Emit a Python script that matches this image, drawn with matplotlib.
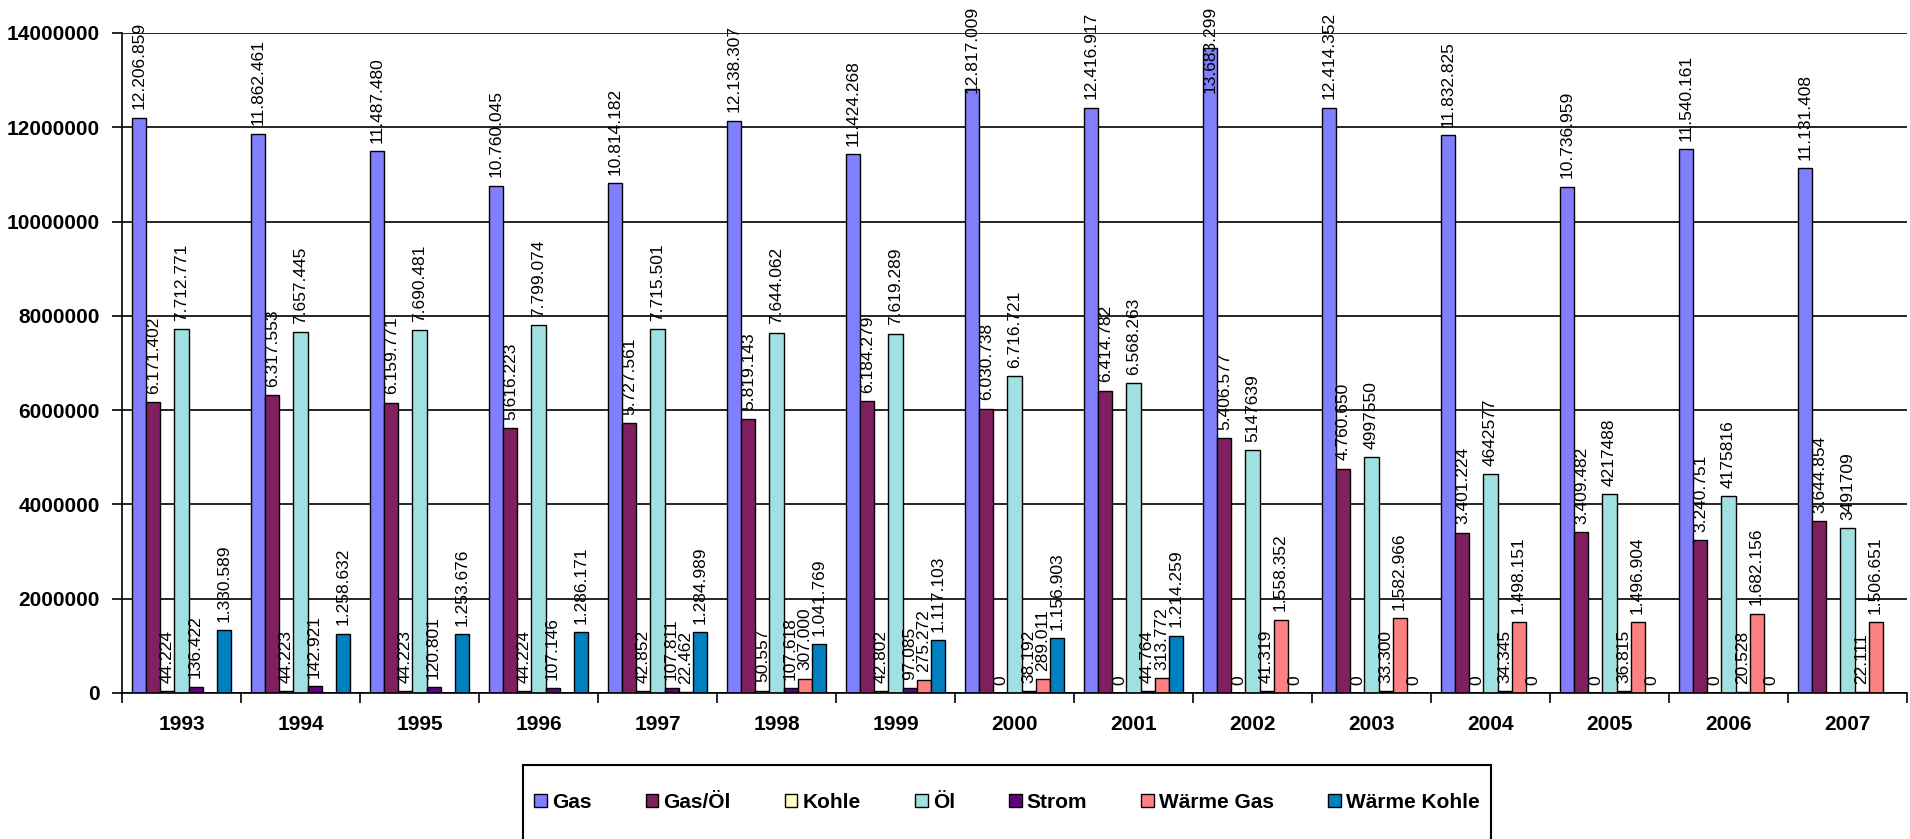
import numpy as np
import matplotlib
matplotlib.use("Agg")
import matplotlib.pyplot as plt
from matplotlib.patches import Rectangle

plt.rcParams['font.family'] = ['Liberation Sans', 'DejaVu Sans']

years = ["1993", "1994", "1995", "1996", "1997", "1998", "1999", "2000",
         "2001", "2002", "2003", "2004", "2005", "2006", "2007"]
nan = np.nan

gas = [12206859, 11862461, 11487480, 10760045, 10814182, 12138307, 11424268, 12817009,
       12416917, 13683299, 12414352, 11832825, 10736959, 11540161, 11131408]
gas_oel = [6171402, 6317553, 6159771, 5616223, 5727561, 5819143, 6184279, 6030738,
           6414782, 5406577, 4760650, 3401224, 3409482, 3240751, 3644854]
kohle = [44224, 44223, 44223, 44224, 42852, 50557, 42802, 0,
         0, 0, 0, 0, 0, 0, nan]
oel = [7712771, 7657445, 7690481, 7799074, 7715501, 7644062, 7619289, 6716721,
       6568263, 5147639, 4997550, 4642577, 4217488, 4175816, 3491709]
strom = [136422, 142921, 120801, 107146, 107811, 107618, 97085, 38192,
         44764, 41319, 33300, 34345, 36815, 20528, 22111]
waerme_gas = [nan, nan, nan, nan, 22462, 307000, 275272, 289011,
              313772, 1558352, 1582966, 1498151, 1496904, 1682156, 1506651]
waerme_kohle = [1330589, 1258632, 1253676, 1286171, 1284989, 1041769, 1117103, 1156903,
                1214259, 0, 0, 0, 0, 0, nan]

series_names = ["Gas", "Gas/Öl", "Kohle", "Öl", "Strom", "Wärme Gas", "Wärme Kohle"]
series_values = [gas, gas_oel, kohle, oel, strom, waerme_gas, waerme_kohle]
series_colors = ["#8080FF", "#802060", "#FFFFC0", "#A0E0E0", "#600080", "#FF8080", "#0080C0"]
# Öl labels from 2002 on are shown without thousands separators
oel_plain_years = ["2002", "2003", "2004", "2005", "2006", "2007"]

yticks = [0, 2000000, 4000000, 6000000, 8000000, 10000000, 12000000, 14000000]

W, H = 1910, 839
fig = plt.figure(figsize=(W / 100, H / 100), dpi=100)
ax = fig.add_axes([122 / W, 1 - 693 / H, (1907 - 122) / W, (693 - 33) / H])

x = np.arange(len(years))
bw = 0.118
n = len(series_names)
containers = []
annots = []
for i, (name, vals, col) in enumerate(zip(series_names, series_values, series_colors)):
    vals = np.array(vals, dtype=float)
    pos = x + (i - (n - 1) / 2) * bw
    bc = ax.bar(pos, vals, width=bw, color=col, edgecolor="black", linewidth=1.0,
                label=name, zorder=3)
    containers.append(bc)
    for j, (p, v) in enumerate(zip(pos, vals)):
        if np.isnan(v):
            continue
        grouped = not (name == "Öl" and years[j] in oel_plain_years)
        txt = f"{int(v):,}".replace(",", ".") if grouped else str(int(v))
        a = ax.annotate(txt, xy=(p, v), xytext=(0, 6), textcoords="offset points",
                        rotation=90, ha="center", va="bottom", fontsize=12.5,
                        color="black", zorder=5, annotation_clip=False)
        annots.append(a)

ax.set_xlim(-0.5, len(years) - 0.5)
ax.set_ylim(0, 14000000)
ax.set_yticks(yticks)
ax.set_yticklabels([str(t) for t in yticks], fontsize=15, fontweight="bold")
ax.set_xticks(x)
ax.set_xticklabels(years, fontsize=15, fontweight="bold")
ax.set_xticks(np.arange(-0.5, len(years), 1.0), minor=True)
ax.tick_params(axis="x", which="major", length=0, pad=16)
ax.tick_params(axis="x", which="minor", length=7, width=1.2, direction="out")
ax.tick_params(axis="y", which="major", length=7, width=1.2, direction="out", pad=9)

ax.yaxis.grid(True, color="black", linewidth=1.2, zorder=0)
ax.set_axisbelow(True)
for s in ["top", "right"]:
    ax.spines[s].set_visible(False)
for s in ["left", "bottom"]:
    ax.spines[s].set_color("black")
    ax.spines[s].set_linewidth(1.2)
    ax.spines[s].set_zorder(4)

# legend box (extends past the bottom of the figure)
top_y = 1 - 765 / H
fig.add_artist(Rectangle((523 / W, -0.1), (1491 - 523) / W, top_y + 0.1,
                         transform=fig.transFigure, fill=False, edgecolor="black",
                         linewidth=1.5, clip_on=False))
leg = fig.legend(handles=containers, labels=series_names, ncol=7, frameon=False,
                 loc="center", bbox_to_anchor=((523 + 1491) / 2 / W, 1 - 802 / H),
                 bbox_transform=fig.transFigure,
                 prop={"size": 15, "weight": "bold"},
                 handlelength=0.6, handleheight=0.6, handletextpad=0.25,
                 columnspacing=2.6)

# keep labels inside the figure: push too-high labels down (as the original does)
fig.canvas.draw()
renderer = fig.canvas.get_renderer()
limit = H - 6
for a in annots:
    bb = a.get_window_extent(renderer)
    if bb.y1 > limit:
        shift_px = bb.y1 - limit
        a.xyann = (0, 6 - shift_px * 72 / 100)

fig.savefig("out.png", dpi=100)
